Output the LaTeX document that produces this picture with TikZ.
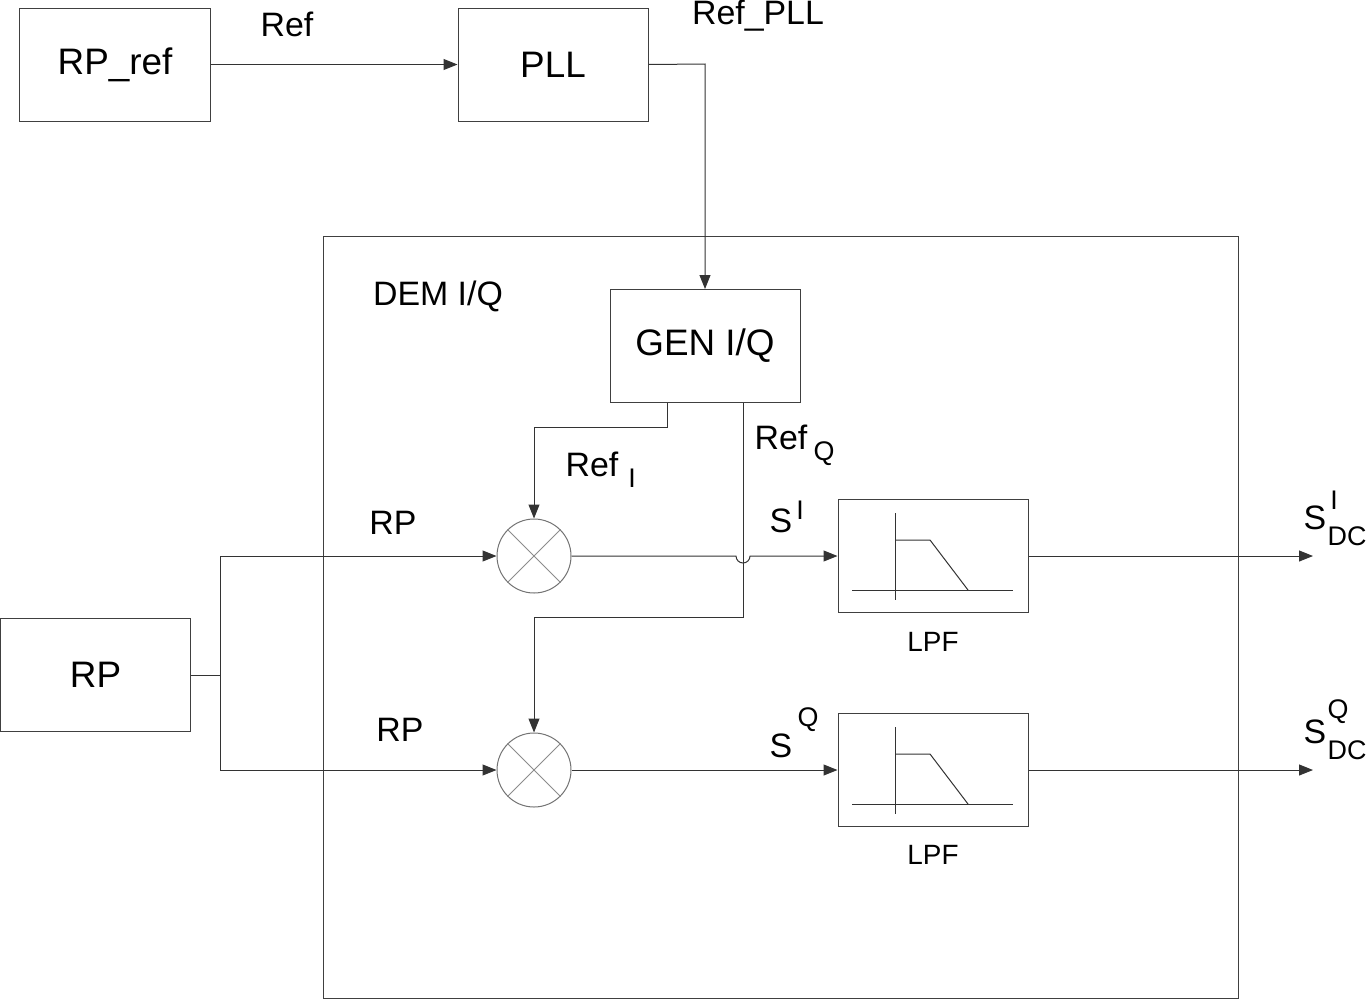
\documentclass[tikz,border=0pt]{standalone}
\usepackage{fontspec}
\setmainfont{Liberation Sans}
\usetikzlibrary{arrows.meta}
\begin{document}
\begin{tikzpicture}[x=1bp,y=-1bp,
  box/.style={draw=black!75,line width=1bp,minimum width=190bp,minimum height=113bp,inner sep=0,font=\fontsize{37}{42}\selectfont},
  mix/.style={circle,draw=black!55,line width=1bp,minimum size=74bp,inner sep=0},
  w/.style={draw=black!80,line width=1bp},
  arr/.style={w,-{Triangle[length=14bp,width=11bp]}},
  lbl/.style={font=\fontsize{34}{40}\selectfont,inner sep=0},
  sm/.style={font=\fontsize{27}{32}\selectfont,inner sep=0},
  sl/.style={font=\fontsize{28}{32}\selectfont,inner sep=0}]
\useasboundingbox (0,0) rectangle (1369,1000);
\node[draw=black!75,line width=1bp,minimum width=914bp,minimum height=762bp,inner sep=0] (dem) at (781,617) {};
\node[box] (rpref) at (115,64.5) {RP\_ref};
\node[box] (pll) at (553,64.5) {PLL};
\node[box] (gen) at (705,346) {GEN I/Q};
\node[box] (rp) at (95.5,675) {RP};
\node[box] (lpf1) at (933,556) {};
\node[box] (lpf2) at (933,770) {};
\node[mix] (m1) at (534,556) {};
\node[mix] (m2) at (534,770) {};
\foreach \m in {m1,m2}{
  \draw[black!45,line width=1bp] (\m.45) -- (\m.225) (\m.135) -- (\m.315);}
\foreach \dy in {0,214}{
  \draw[black!80,line width=1bp] (852,590+\dy) -- (1013,590+\dy) (895,513+\dy) -- (895,600+\dy);
  \draw[black!80,line width=1bp] (895,540+\dy) -- (930,540+\dy) -- (968,590+\dy);}
\node[lbl] at (438,296) {DEM I/Q};
\draw[arr] (rpref.east) -- (pll.west);
\node[lbl] at (287,24) {Ref};
\node[lbl] at (758,16) {Ref\_PLL};
\draw[arr] (pll.east) -- (705,64) -- (gen.north);
\coordinate (gi) at (667,403);
\coordinate (gq) at (743,403);
\draw[arr] (gi) -- (667,427) -- (534,427) -- (m1.north);
\draw[arr] (gq) -- (743,617) -- (534,617) -- (m2.north);
\node[lbl] at (592,464) {Ref};
\node[sm] at (632,478) {I};
\node[lbl] at (781,437) {Ref};
\node[sm] at (824,454) {Q};
\coordinate (sp) at (220,675);
\draw[w] (rp.east) -- (sp);
\draw[arr] (sp) -- (220,556) -- (m1.west);
\draw[arr] (sp) -- (220,770) -- (m2.west);
\node[lbl] at (393,523) {RP};
\node[lbl] at (400,730) {RP};
\draw[arr] (m1.east) -- (736,556) arc (180:0:7) -- (lpf1.west);
\draw[arr] (m2.east) -- (lpf2.west);
\node[lbl] at (781,521) {S};
\node[sm] at (800,510) {I};
\node[lbl] at (781,746) {S};
\node[sm] at (808,720) {Q};
\node[sl] at (933,642) {LPF};
\node[sl] at (933,855) {LPF};
\coordinate (o1) at (1313,556);
\coordinate (o2) at (1313,770);
\draw[arr] (lpf1.east) -- (o1);
\draw[arr] (lpf2.east) -- (o2);
\node[lbl] at (1315,518) {S};
\node[sm] at (1347,536) {DC};
\node[sm] at (1334,500) {I};
\node[lbl] at (1315,732) {S};
\node[sm] at (1347,750) {DC};
\node[sm] at (1338,712) {Q};
\end{tikzpicture}
\end{document}
